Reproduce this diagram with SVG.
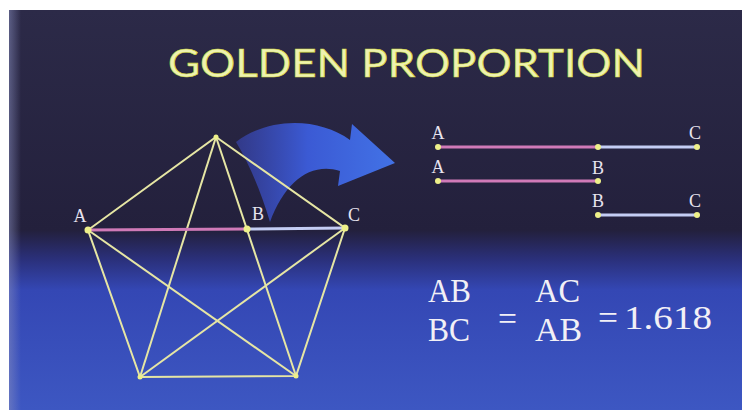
<svg xmlns="http://www.w3.org/2000/svg" width="742" height="410" viewBox="0 0 742 410">
  <defs>
    <linearGradient id="bg" x1="0" y1="0" x2="0" y2="1">
      <stop offset="0" stop-color="#2c2a48"/>
      <stop offset="0.55" stop-color="#23203c"/>
      <stop offset="0.62" stop-color="#2a2f78"/>
      <stop offset="0.7" stop-color="#3447b4"/>
      <stop offset="1" stop-color="#3d57c2"/>
    </linearGradient>
    <linearGradient id="arrowGrad" x1="0" y1="0" x2="1" y2="0">
      <stop offset="0" stop-color="#3a48b8" stop-opacity="0.6"/>
      <stop offset="0.45" stop-color="#3b5ad4"/>
      <stop offset="1" stop-color="#4272e6"/>
    </linearGradient>
    <linearGradient id="leftEdge" x1="0" y1="0" x2="1" y2="0">
      <stop offset="0" stop-color="#8a90c0" stop-opacity="0.5"/>
      <stop offset="1" stop-color="#8a90c0" stop-opacity="0"/>
    </linearGradient>
  </defs>
  <style>
    .edge { stroke: #e6e6a4; stroke-width: 2; fill: none; }
    .dot { fill: #eef08a; }
    .lbl { font-family: "Liberation Serif", serif; font-size: 18px; fill: #e8e4f0; text-anchor: middle; }
    .eq { font-family: "Liberation Serif", serif; font-size: 33px; fill: #f2f0f6; }
    .pink { stroke: #d07ab8; stroke-width: 3; }
    .blue { stroke: #c4cdf4; stroke-width: 3; }
    .title { font-family: "Lato", "Open Sans", sans-serif; font-size: 38px; fill: #eef2b0; stroke: #d4dc3c; stroke-width: 0.6; }
  </style>

  <rect x="0" y="0" width="742" height="410" fill="#ffffff"/>
  <rect x="9" y="10" width="733" height="400" fill="url(#bg)"/>
  <rect x="9" y="10" width="12" height="400" fill="url(#leftEdge)"/>

  <text class="title" x="168" y="77" textLength="477" lengthAdjust="spacingAndGlyphs">GOLDEN PROPORTION</text>

  <g id="arrow">
    <path d="M236,142 C270,116 320,118 350,140 L352,124 L395,163 L338,186 L340,171 C310,162 285,182 270,222 C262,195 250,165 236,142 Z" fill="url(#arrowGrad)"/>
  </g>

  <g id="pentagon">
    <polygon class="edge" points="216,137 345,228 296,376 140,377 88,230"/>
    <line class="edge" x1="88" y1="230" x2="296" y2="376"/>
    <line class="edge" x1="216" y1="137" x2="140" y2="377"/>
    <line class="edge" x1="216" y1="137" x2="296" y2="376"/>
    <line class="edge" x1="345" y1="228" x2="140" y2="377"/>
    <line class="pink" x1="88" y1="230" x2="247" y2="229"/>
    <line class="blue" x1="247" y1="229" x2="345" y2="228"/>
    <circle class="dot" cx="88" cy="230" r="3.5"/>
    <circle class="dot" cx="247" cy="229" r="3.5"/>
    <circle class="dot" cx="345" cy="228" r="3.5"/>
    <circle class="dot" cx="216" cy="137" r="2.5"/>
    <circle class="dot" cx="296" cy="376" r="2.5"/>
    <circle class="dot" cx="140" cy="377" r="2.5"/>
    <text class="lbl" x="80" y="222">A</text>
    <text class="lbl" x="258" y="220">B</text>
    <text class="lbl" x="354" y="221">C</text>
  </g>

  <g id="segment-AC">
    <line class="pink" x1="438" y1="147" x2="598" y2="147"/>
    <line class="blue" x1="598" y1="147" x2="697" y2="147"/>
    <circle class="dot" cx="438" cy="147" r="3"/>
    <circle class="dot" cx="598" cy="147" r="3"/>
    <circle class="dot" cx="697" cy="147" r="3"/>
    <text class="lbl" x="438" y="139">A</text>
    <text class="lbl" x="695" y="139">C</text>
  </g>

  <g id="segment-AB">
    <line class="pink" x1="438" y1="181" x2="598" y2="181"/>
    <circle class="dot" cx="438" cy="181" r="3"/>
    <circle class="dot" cx="598" cy="181" r="3"/>
    <text class="lbl" x="438" y="173">A</text>
    <text class="lbl" x="598" y="174">B</text>
  </g>

  <g id="segment-BC">
    <line class="blue" x1="598" y1="215" x2="697" y2="215"/>
    <circle class="dot" cx="598" cy="215" r="3"/>
    <circle class="dot" cx="697" cy="215" r="3"/>
    <text class="lbl" x="598" y="207">B</text>
    <text class="lbl" x="695" y="207">C</text>
  </g>

  <g id="equation">
    <text class="eq" x="428" y="302" textLength="43" lengthAdjust="spacingAndGlyphs">AB</text>
    <text class="eq" x="428" y="341" textLength="42" lengthAdjust="spacingAndGlyphs">BC</text>
    <text class="eq" x="498" y="330" textLength="19" lengthAdjust="spacingAndGlyphs">=</text>
    <text class="eq" x="535" y="302" textLength="45" lengthAdjust="spacingAndGlyphs">AC</text>
    <text class="eq" x="535" y="341" textLength="47" lengthAdjust="spacingAndGlyphs">AB</text>
    <text class="eq" x="598" y="329" textLength="20" lengthAdjust="spacingAndGlyphs">=</text>
    <text class="eq" x="624" y="329" textLength="88" lengthAdjust="spacingAndGlyphs">1.618</text>
  </g>
</svg>
